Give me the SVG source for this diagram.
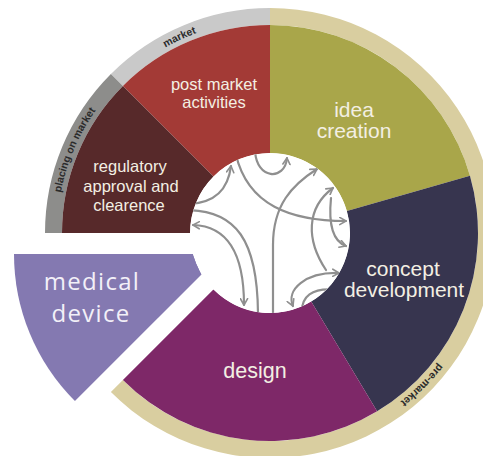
<svg xmlns="http://www.w3.org/2000/svg" width="483" height="456" viewBox="0 0 483 456">
  <defs>
    <style>
      .lbl { font-family: "Liberation Sans", Arial, sans-serif; fill: #F3EFE3; text-anchor: middle; }
      .md { font-family: "Open Sans", "Noto Sans", sans-serif; fill: #F3F0F8; text-anchor: middle; font-size: 24px; letter-spacing: 1.3px; }
      .band { font-family: "Liberation Sans", Arial, sans-serif; font-weight: bold; font-size: 10.5px; fill: #2B2B2B; text-anchor: middle; }
      .arr { fill: none; stroke: #8F8F8F; stroke-width: 2.2; stroke-linecap: round; }
    </style>
    <marker id="ah" viewBox="0 0 10 10" refX="8" refY="5" markerWidth="9" markerHeight="9" markerUnits="userSpaceOnUse" orient="auto-start-reverse">
      <path d="M1,1 L8,5 L1,9" fill="none" stroke="#8F8F8F" stroke-width="1.8" stroke-linecap="round" stroke-linejoin="round"/>
    </marker>
    <clipPath id="inner">
      <circle cx="270" cy="233" r="80"/>
    </clipPath>
    <path id="ring" d="M270,20 A213,213 0 1 1 270,446 A213,213 0 1 1 270,20"/>
  </defs>
  <rect width="483" height="456" fill="#FFFFFF"/>

  <!-- outer band -->
  <g id="band-pre-market">
    <path d="M270,8 A225,225 0 1 1 110.90,392.10 L122.92,380.08 A208,208 0 1 0 270,25 Z" fill="#D9CEA0"/>
    <text class="band"><textPath href="#ring" startOffset="37.5%">pre-market</textPath></text>
  </g>
  <g id="band-market">
    <path d="M110.90,73.90 A225,225 0 0 1 270,8 L270,25 A208,208 0 0 0 122.92,85.92 Z" fill="#C9C9C9"/>
    <text class="band"><textPath href="#ring" startOffset="93.1%">market</textPath></text>
  </g>
  <g id="band-placing-on-market">
    <path d="M45,233 A225,225 0 0 1 110.90,73.90 L122.92,85.92 A208,208 0 0 0 62,233 Z" fill="#8D8D8B"/>
    <text class="band"><textPath href="#ring" startOffset="81.4%">placing on market</textPath></text>
  </g>

  <!-- wheel segments -->
  <g id="node-post-market">
    <path d="M122.92,85.92 A208,208 0 0 1 270,25 L270,153 A80,80 0 0 0 213.43,176.43 Z" fill="#A33A36"/>
    <text class="lbl" font-size="16.5" x="214" y="90">post market</text>
    <text class="lbl" font-size="16.5" x="214" y="108">activities</text>
  </g>
  <g id="node-regulatory">
    <path d="M62,233 A208,208 0 0 1 122.92,85.92 L213.43,176.43 A80,80 0 0 0 190,233 Z" fill="#57292A"/>
    <text class="lbl" font-size="16.5" x="130" y="172">regulatory</text>
    <text class="lbl" font-size="16.5" x="131" y="192">approval and</text>
    <text class="lbl" font-size="16.5" x="129" y="211">clearence</text>
  </g>
  <g id="node-idea">
    <path d="M270,25 A208,208 0 0 1 469.95,175.68 L346.90,210.95 A80,80 0 0 0 270,153 Z" fill="#A9A64A"/>
    <text class="lbl" font-size="21" x="354" y="117">idea</text>
    <text class="lbl" font-size="21" x="354" y="138">creation</text>
  </g>
  <g id="node-concept">
    <path d="M469.95,175.68 A208,208 0 0 1 377.12,411.30 L311.20,301.58 A80,80 0 0 0 346.90,210.95 Z" fill="#37354F"/>
    <text class="lbl" font-size="21" x="403" y="276">concept</text>
    <text class="lbl" font-size="21" x="404" y="297">development</text>
  </g>
  <g id="node-design">
    <path d="M377.12,411.30 A208,208 0 0 1 122.92,380.08 L213.43,289.57 A80,80 0 0 0 311.20,301.58 Z" fill="#7E2868"/>
    <text class="lbl" font-size="21.5" x="255" y="378">design</text>
  </g>
  <g id="node-medical-device">
    <path d="M14,254 L193,254 L201.5,274.5 L74.92,401.08 A208,208 0 0 1 14,254 Z" fill="#8479B1"/>
    <text class="md" x="92" y="290">medical</text>
    <text class="md" x="91" y="322">device</text>
  </g>

  <!-- inner circle of arrows -->
  <g id="connectors" clip-path="url(#inner)">
    <circle cx="270" cy="233" r="80" fill="#FFFFFF"/>
    <path class="arr" d="M188,204 C215,203 228,190 231,166" marker-end="url(#ah)"/>
    <path class="arr" d="M236,155 C248,205 290,221 346,221" marker-end="url(#ah)"/>
    <path class="arr" d="M255,150 C256,180 285,181 287,158" marker-end="url(#ah)"/>
    <path class="arr" d="M273,316 L273,245 C273,205 292,185 317,169" marker-end="url(#ah)"/>
    <path class="arr" d="M326,270 C306,240 306,208 333,188" marker-end="url(#ah)"/>
    <path class="arr" d="M193,225 C226,226 244,252 244,305" marker-start="url(#ah)" marker-end="url(#ah)"/>
    <path class="arr" d="M186,210 C236,210 258,240 258,316"/>
    <path class="arr" d="M331,198 C328,228 335,242 346,246" marker-end="url(#ah)"/>
    <path class="arr" d="M339,273 C305,272 286,290 293,306" marker-start="url(#ah)" marker-end="url(#ah)"/>
    <path class="arr" d="M338,290 C312,287 300,296 302,316"/>
  </g>
</svg>
